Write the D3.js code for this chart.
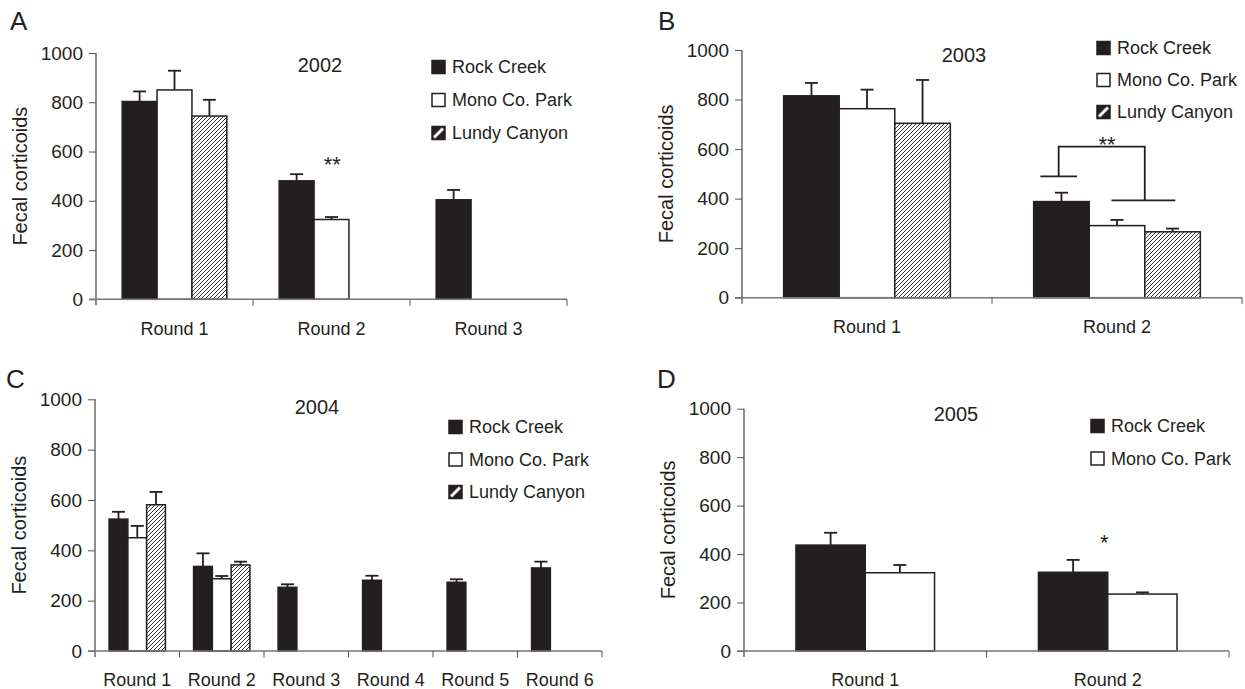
<!DOCTYPE html>
<html>
<head>
<meta charset="utf-8">
<script src="https://cdn.jsdelivr.net/npm/d3@7"></script>
<style>
  html, body { margin: 0; padding: 0; background: #fff; }
  svg { display: block; }
  text { font-family: "Liberation Sans", Arial, sans-serif; fill: #231f20; }
</style>
</head>
<body>
<svg id="chart" width="1245" height="689"></svg>
<script>
// ---------------- DATA ----------------
const seriesNames = ["Rock Creek", "Mono Co. Park", "Lundy Canyon"];
const yTicks = [0, 200, 400, 600, 800, 1000];
const yAxisTitle = "Fecal corticoids";

// Panel A: 2002
const roundsA = ["Round 1", "Round 2", "Round 3"];
const rockA = [803, 481, 404];
const rockErrA = [41, 27, 40];
const monoA = [850, 324, null];
const monoErrA = [78, 10, null];
const lundyA = [744, null, null];
const lundyErrA = [66, null, null];

// Panel B: 2003
const roundsB = ["Round 1", "Round 2"];
const rockB = [815, 388];
const rockErrB = [52, 36];
const monoB = [763, 291];
const monoErrB = [77, 23];
const lundyB = [704, 266];
const lundyErrB = [175, 13];

// Panel C: 2004
const roundsC = ["Round 1", "Round 2", "Round 3", "Round 4", "Round 5", "Round 6"];
const rockC = [524, 336, 253, 281, 273, 330];
const rockErrC = [29, 52, 12, 18, 12, 25];
const monoC = [450, 287, null, null, null, null];
const monoErrC = [47, 11, null, null, null, null];
const lundyC = [581, 342, null, null, null, null];
const lundyErrC = [51, 13, null, null, null, null];

// Panel D: 2005
const roundsD = ["Round 1", "Round 2"];
const rockD = [437, 325];
const rockErrD = [51, 51];
const monoD = [323, 235];
const monoErrD = [32, 7];

// significance annotations (round, position in bar slots, value)
const starsA = [{ round: "Round 2", slot: 1.52, value: 572, label: "**" }];
const starsB = [{ round: "Round 2", slot: 1.32, value: 640, label: "**" }];
const starsD = [{ round: "Round 2", slot: 0.95, value: 472, label: "*" }];
// bracket in panel B: left arm over slot 0.45 at 490, right arm over slot 2.0 at 393, top at 610
const bracketB = { round: "Round 2", leftSlot: 0.45, leftValue: 490, rightSlot: 2.0, rightValue: 393, topValue: 610 };

// ---------------- LAYOUT ----------------
const panels = [
  { letter: "A", year: "2002", rounds: roundsA, nSeries: 3,
    values: [rockA, monoA, lundyA], errs: [rockErrA, monoErrA, lundyErrA],
    stars: starsA, bracket: null,
    x0: 96, x1: 567, yTop: 53, yBot: 299.3,
    letterPos: [10, 30], yearPos: [320, 65],
    legend: { x: 432, y: 67, gap: 33 } },
  { letter: "B", year: "2003", rounds: roundsB, nSeries: 3,
    values: [rockB, monoB, lundyB], errs: [rockErrB, monoErrB, lundyErrB],
    stars: starsB, bracket: bracketB,
    x0: 742, x1: 1242, yTop: 50, yBot: 297.7,
    letterPos: [658, 30], yearPos: [964, 55],
    legend: { x: 1097, y: 48, gap: 32 } },
  { letter: "C", year: "2004", rounds: roundsC, nSeries: 3,
    values: [rockC, monoC, lundyC], errs: [rockErrC, monoErrC, lundyErrC],
    stars: [], bracket: null,
    x0: 95, x1: 602, yTop: 399.3, yBot: 651,
    letterPos: [6, 388], yearPos: [317, 407],
    legend: { x: 449, y: 427, gap: 32.5 } },
  { letter: "D", year: "2005", rounds: roundsD, nSeries: 2,
    values: [rockD, monoD], errs: [rockErrD, monoErrD],
    stars: starsD, bracket: null,
    x0: 744, x1: 1229, yTop: 408.7, yBot: 651,
    letterPos: [657, 388], yearPos: [956, 414],
    legend: { x: 1091, y: 426, gap: 32.5 } }
];

const DARK = "#231f20";
const svg = d3.select("#chart");
const defs = svg.append("defs");

const hatch = defs.append("pattern").attr("id", "hatch")
  .attr("patternUnits", "userSpaceOnUse").attr("width", 4).attr("height", 4);
hatch.append("rect").attr("width", 4).attr("height", 4).attr("fill", "#fff");
hatch.append("path").attr("d", "M0,4 L4,0 M-1,1 L1,-1 M3,5 L5,3")
  .attr("stroke", DARK).attr("stroke-width", 0.9);

const hatchL = defs.append("pattern").attr("id", "hatchL")
  .attr("patternUnits", "objectBoundingBox").attr("width", 1).attr("height", 1);
hatchL.append("rect").attr("width", 13).attr("height", 13).attr("fill", DARK);
hatchL.append("path").attr("d", "M2,11 L11,2").attr("stroke", "#fff").attr("stroke-width", 3);

const fills = [DARK, "#fff", "url(#hatch)"];
const legendFills = [DARK, "#fff", "url(#hatchL)"];

panels.forEach(p => {
  const g = svg.append("g");
  const x = d3.scaleBand().domain(p.rounds).range([p.x0, p.x1]).paddingInner(0).paddingOuter(0);
  const sub = d3.scaleBand().domain(d3.range(p.nSeries)).range([0, x.bandwidth()])
    .paddingInner(0).paddingOuter(0.75);
  const y = d3.scaleLinear().domain([0, 1000]).range([p.yBot, p.yTop]);
  const bw = sub.bandwidth();
  const slotX = (round, slot) => x(round) + sub(0) + slot * bw;

  // y axis
  const yAxis = d3.axisLeft(y).tickValues(yTicks).tickFormat(d3.format("d"))
    .tickSize(7).tickPadding(6).tickSizeOuter(0);
  const ya = g.append("g").attr("transform", `translate(${p.x0},0)`).call(yAxis);
  ya.select(".domain").remove();
  ya.selectAll(".tick line").attr("stroke", "#555").attr("stroke-width", 1);
  ya.selectAll(".tick text").style("font-size", "19px").attr("fill", DARK)
    .style("font-family", '"Liberation Sans", Arial, sans-serif');

  // x axis labels at band centers
  const xAxis = d3.axisBottom(x).tickSize(0).tickPadding(0);
  const xa = g.append("g").attr("transform", `translate(0,${p.yBot + 29})`).call(xAxis);
  xa.select(".domain").remove();
  xa.selectAll(".tick text").attr("dy", "0.35em").attr("y", 0).style("font-size", "18px")
    .attr("fill", DARK).style("font-family", '"Liberation Sans", Arial, sans-serif');

  // bars
  p.values.forEach((vals, si) => {
    const rows = p.rounds.map((r, i) => ({ r, v: vals[i], e: p.errs[si][i] })).filter(d => d.v != null);
    const eg = g.append("g");
    rows.forEach(d => {
      const cx = x(d.r) + sub(si) + bw / 2;
      eg.append("line").attr("x1", cx).attr("x2", cx).attr("y1", y(d.v)).attr("y2", y(d.v + d.e))
        .attr("stroke", DARK).attr("stroke-width", 1.8);
      eg.append("line").attr("x1", cx - 6.5).attr("x2", cx + 6.5).attr("y1", y(d.v + d.e)).attr("y2", y(d.v + d.e))
        .attr("stroke", DARK).attr("stroke-width", 1.8);
    });
    g.append("g").selectAll("rect").data(rows).join("rect")
      .attr("x", d => x(d.r) + sub(si))
      .attr("width", bw)
      .attr("y", d => y(d.v))
      .attr("height", d => y(0) - y(d.v))
      .attr("fill", fills[si])
      .attr("stroke", DARK).attr("stroke-width", 1.5);
  });

  // y axis line (extends slightly below x axis)
  g.append("line").attr("x1", p.x0).attr("x2", p.x0).attr("y1", p.yTop).attr("y2", p.yBot + 6)
    .attr("stroke", "#444").attr("stroke-width", 1.2);
  // x axis line
  g.append("line").attr("x1", p.x0 - 7).attr("x2", p.x1).attr("y1", p.yBot).attr("y2", p.yBot)
    .attr("stroke", "#777").attr("stroke-width", 1.5);
  // category boundary ticks
  const bounds = p.rounds.map(r => x(r) + x.bandwidth());
  g.append("g").selectAll("line").data(bounds).join("line")
    .attr("x1", d => d).attr("x2", d => d).attr("y1", p.yBot).attr("y2", p.yBot + 6.5)
    .attr("stroke", "#555").attr("stroke-width", 1);

  // axis title
  g.append("text")
    .attr("transform", `translate(${p.x0 - 76},${(p.yTop + p.yBot) / 2}) rotate(-90)`)
    .attr("text-anchor", "middle").attr("dy", "0.35em")
    .style("font-size", "20px").text(yAxisTitle);

  // panel letter
  g.append("text").attr("x", p.letterPos[0]).attr("y", p.letterPos[1])
    .style("font-size", "26px").text(p.letter);

  // year
  g.append("text").attr("x", p.yearPos[0]).attr("y", p.yearPos[1]).attr("dy", "0.35em")
    .attr("text-anchor", "middle").style("font-size", "20px").text(p.year);

  // legend
  d3.range(p.nSeries).forEach(si => {
    const ly = p.legend.y + si * p.legend.gap;
    g.append("rect").attr("x", p.legend.x).attr("y", ly - 6.5).attr("width", 13).attr("height", 13)
      .attr("fill", legendFills[si]).attr("stroke", DARK).attr("stroke-width", 1.5);
    g.append("text").attr("x", p.legend.x + 20).attr("y", ly).attr("dy", "0.35em")
      .style("font-size", "18px").text(seriesNames[si]);
  });

  // stars
  p.stars.forEach(s => {
    g.append("text").attr("x", slotX(s.round, s.slot)).attr("y", y(s.value)).attr("dy", "0.6em")
      .attr("text-anchor", "middle").style("font-size", "22px").text(s.label);
  });

  // bracket
  if (p.bracket) {
    const b = p.bracket;
    const lx = slotX(b.round, b.leftSlot), rx = slotX(b.round, b.rightSlot);
    const lineAttrs = sel => sel.attr("stroke", DARK).attr("stroke-width", 1.8).attr("fill", "none");
    g.append("line").attr("x1", lx - bw * 0.33).attr("x2", lx + bw * 0.33)
      .attr("y1", y(b.leftValue)).attr("y2", y(b.leftValue)).call(lineAttrs);
    g.append("line").attr("x1", rx - bw * 0.6).attr("x2", rx + bw * 0.55)
      .attr("y1", y(b.rightValue)).attr("y2", y(b.rightValue)).call(lineAttrs);
    g.append("path").attr("d",
      `M${lx},${y(b.leftValue)} L${lx},${y(b.topValue)} L${rx},${y(b.topValue)} L${rx},${y(b.rightValue)}`)
      .call(lineAttrs);
  }
});
</script>
</body>
</html>
